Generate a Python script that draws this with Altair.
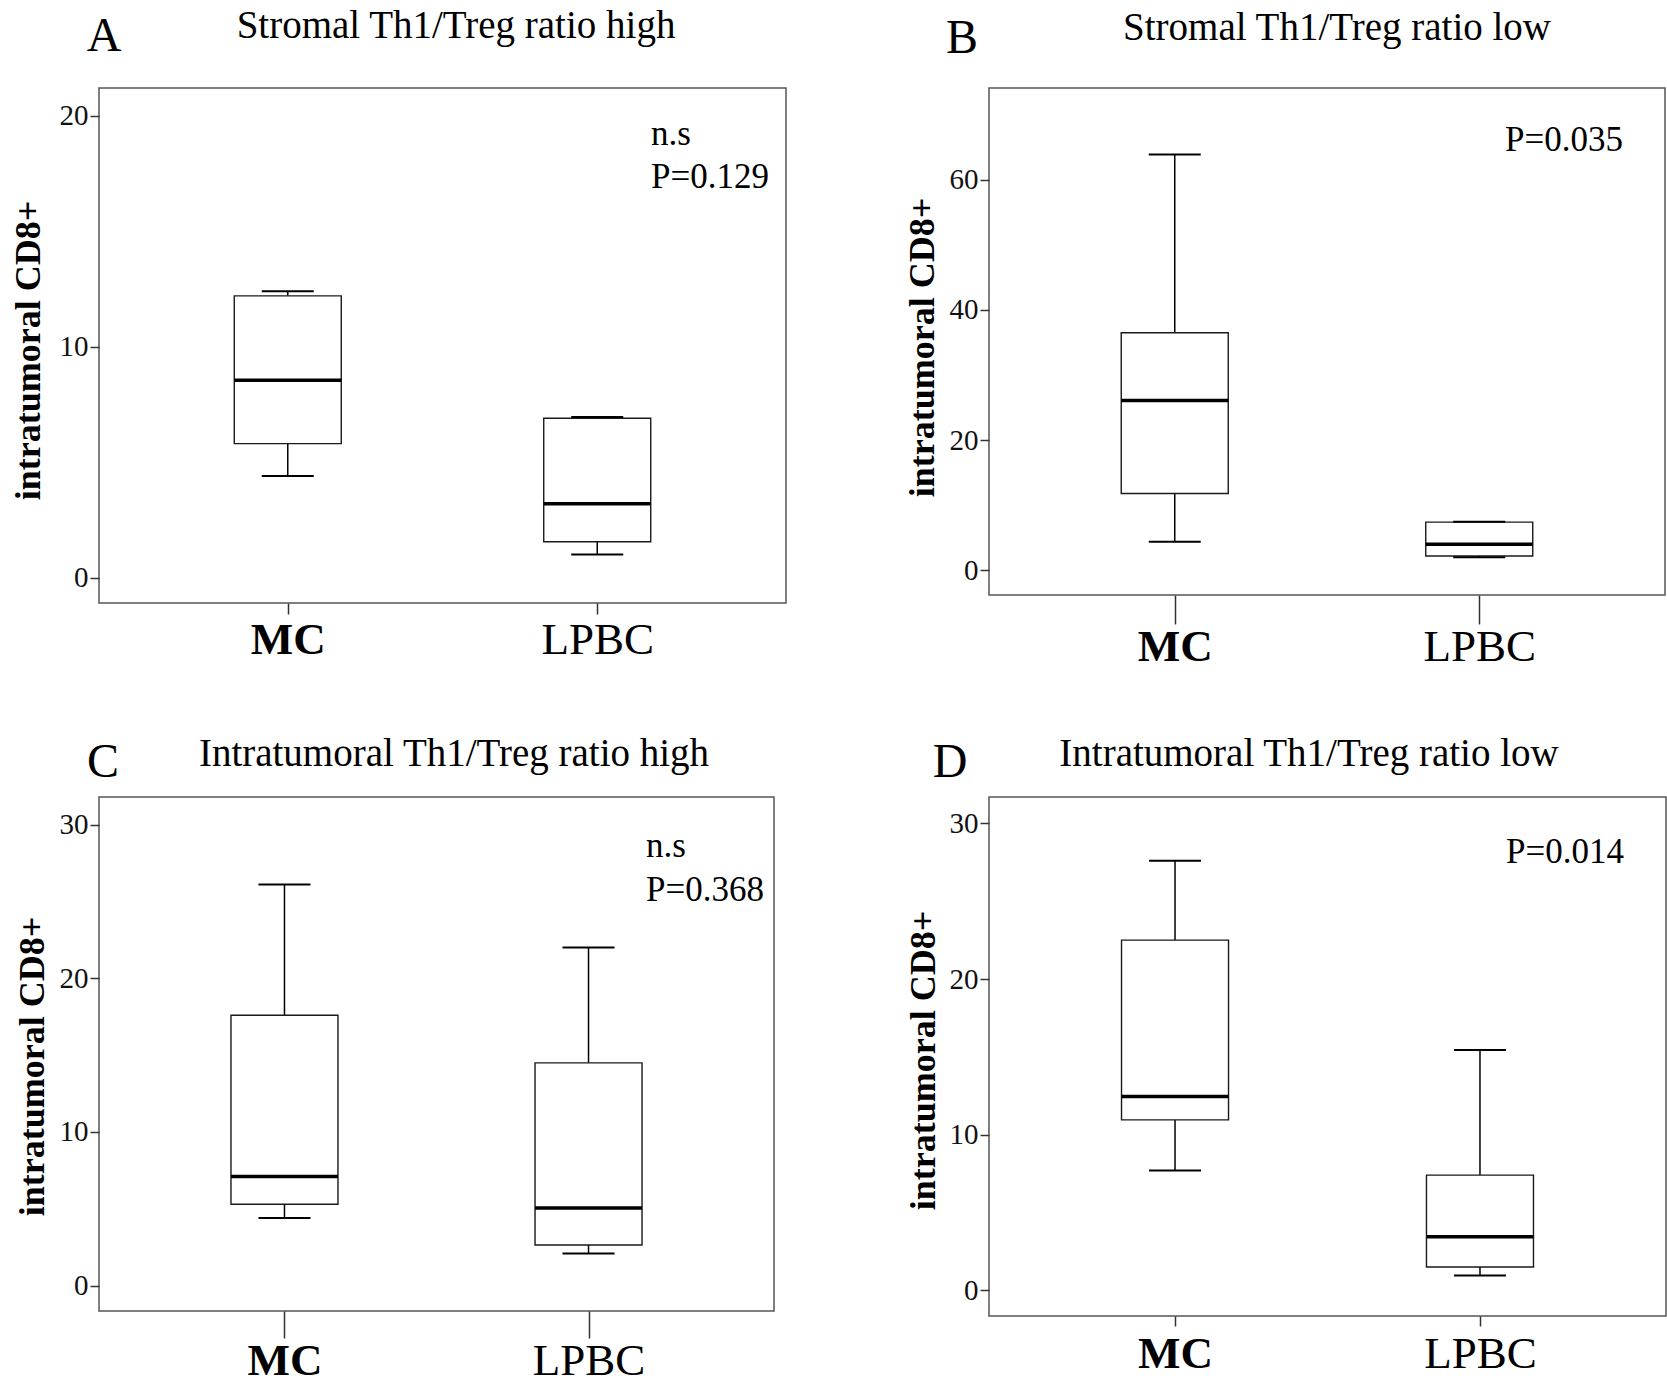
import altair as alt
import pandas as pd

FONT = "Liberation Serif"

# ---------------- data ----------------
groups = ["MC", "LPBC"]

# Panel A: Stromal Th1/Treg ratio high
a_low = [4.4, 1.0]
a_q1 = [5.8, 1.55]
a_median = [8.55, 3.2]
a_q3 = [12.2, 6.9]
a_high = [12.4, 6.95]

# Panel B: Stromal Th1/Treg ratio low
b_low = [4.4, 2.0]
b_q1 = [11.8, 2.2]
b_median = [26.1, 4.0]
b_q3 = [36.5, 7.4]
b_high = [63.9, 7.45]

# Panel C: Intratumoral Th1/Treg ratio high
c_low = [4.4, 2.1]
c_q1 = [5.3, 2.65]
c_median = [7.1, 5.05]
c_q3 = [17.6, 14.5]
c_high = [26.1, 22.0]

# Panel D: Intratumoral Th1/Treg ratio low
d_low = [7.7, 0.95]
d_q1 = [10.95, 1.5]
d_median = [12.45, 3.45]
d_q3 = [22.5, 7.4]
d_high = [27.6, 15.45]

titles = [
    "Stromal Th1/Treg ratio high",
    "Stromal Th1/Treg ratio low",
    "Intratumoral Th1/Treg ratio high",
    "Intratumoral Th1/Treg ratio low",
]
letters = ["A", "B", "C", "D"]
notes = [["n.s", "P=0.129"], ["P=0.035"], ["n.s", "P=0.368"], ["P=0.014"]]
y_domains = [[-1.1, 21.2], [-3.8, 74.1], [-1.65, 31.8], [-1.65, 31.7]]
y_ticks = [[0, 10, 20], [0, 20, 40, 60], [0, 10, 20, 30], [0, 10, 20, 30]]
y_title = "intratumoral CD8+"

stats = [
    (a_low, a_q1, a_median, a_q3, a_high),
    (b_low, b_q1, b_median, b_q3, b_high),
    (c_low, c_q1, c_median, c_q3, c_high),
    (d_low, d_q1, d_median, d_q3, d_high),
]

# ---------------- layout / styling ----------------
layouts = [
    dict(w=687, h=515, tx=357, ty=-50, lx=5, ly=-37, nx=552, ny=[57, 100], nalign="left",
         ytx=-60, yty=262, xtick=11, xpad=3),
    dict(w=676, h=507, tx=348, ty=-48, lx=-27, ly=-35, nx=634, ny=[63], nalign="right",
         ytx=-56, yty=259, xtick=29, xpad=0),
    dict(w=675, h=514, tx=355, ty=-31, lx=4, ly=-20, nx=547, ny=[60, 104], nalign="left",
         ytx=-56, yty=269, xtick=27, xpad=0),
    dict(w=677, h=519, tx=320, ty=-31, lx=-39, ly=-20, nx=635, ny=[66], nalign="right",
         ytx=-55, yty=263, xtick=10, xpad=5),
]


def panel(i):
    low, q1, med, q3, high = stats[i]
    L = layouts[i]
    df = pd.DataFrame({"group": groups, "low": low, "q1": q1, "median": med,
                       "q3": q3, "high": high})
    base = alt.Chart(df)

    xaxis = alt.Axis(
        title=None, labelAngle=0, domain=False, grid=False,
        tickSize=L["xtick"], tickColor="#333", tickWidth=1.5,
        labelPadding=L["xpad"], labelFont=FONT, labelFontSize=45, labelColor="black",
        labelFontWeight={"expr": "datum.value == 'MC' ? 'bold' : 'normal'"},
    )
    yaxis = alt.Axis(
        values=y_ticks[i], title=y_title, titleFont=FONT, titleFontSize=36,
        titleFontWeight="bold", titleColor="black", titleAngle=270,
        titleX=L["ytx"], titleY=L["yty"], titleAlign="center", titleBaseline="alphabetic",
        domain=False, grid=False, tickSize=9, tickColor="#333", tickWidth=1.5,
        labelFont=FONT, labelFontSize=29, labelColor="#111", labelPadding=2,
    )

    def X():
        return alt.X("group:N", sort=groups,
                     scale=alt.Scale(type="point", padding=0.61), axis=xaxis)

    def Y(f):
        return alt.Y(f"{f}:Q", scale=alt.Scale(domain=y_domains[i], nice=False, zero=False),
                     axis=yaxis)

    w_lo = base.mark_rule(color="black", strokeWidth=1.5).encode(x=X(), y=Y("low"), y2="q1:Q")
    w_hi = base.mark_rule(color="black", strokeWidth=1.5).encode(x=X(), y=Y("q3"), y2="high:Q")
    box = base.mark_bar(size=107, fill="white", stroke="#1a1a1a", strokeWidth=1.4,
                        opacity=1).encode(x=X(), y=Y("q1"), y2="q3:Q")
    cap_lo = base.mark_tick(size=52, thickness=2, color="black", opacity=1).encode(x=X(), y=Y("low"))
    cap_hi = base.mark_tick(size=52, thickness=2, color="black", opacity=1).encode(x=X(), y=Y("high"))
    med_t = base.mark_tick(size=107, thickness=3.5, color="black", opacity=1).encode(
        x=X(), y=Y("median"))

    layers = [w_lo, w_hi, box, cap_lo, cap_hi, med_t]

    title_t = alt.Chart(pd.DataFrame({"t": [titles[i]]})).mark_text(
        font=FONT, fontSize=39, align="center", baseline="alphabetic", color="black"
    ).encode(text="t:N", x=alt.value(L["tx"]), y=alt.value(L["ty"]))
    letter_t = alt.Chart(pd.DataFrame({"t": [letters[i]]})).mark_text(
        font=FONT, fontSize=48, align="center", baseline="alphabetic", color="black"
    ).encode(text="t:N", x=alt.value(L["lx"]), y=alt.value(L["ly"]))
    layers += [title_t, letter_t]

    for k, note in enumerate(notes[i]):
        layers.append(alt.Chart(pd.DataFrame({"t": [note]})).mark_text(
            font=FONT, fontSize=35, align=L["nalign"], baseline="alphabetic", color="black"
        ).encode(text="t:N", x=alt.value(L["nx"]), y=alt.value(L["ny"][k])))

    if i == 0:
        # white corner anchor so the page origin sits at the figure's top-left
        layers.append(alt.Chart(pd.DataFrame({"t": [0]})).mark_rule(color="white", strokeWidth=1).encode(
            x=alt.value(-97), x2=alt.value(-96), y=alt.value(-86), y2=alt.value(-85)))

    return alt.layer(*layers).properties(width=L["w"], height=L["h"])


chart = alt.concat(
    panel(0), panel(1), panel(2), panel(3),
    columns=2, spacing={"row": 194, "column": 203}, bounds="flush",
).properties(padding=0, background="white").configure_view(
    stroke="#555", strokeWidth=1.5
)

chart.save("out.html", embed_options={"renderer": "svg", "actions": False})
